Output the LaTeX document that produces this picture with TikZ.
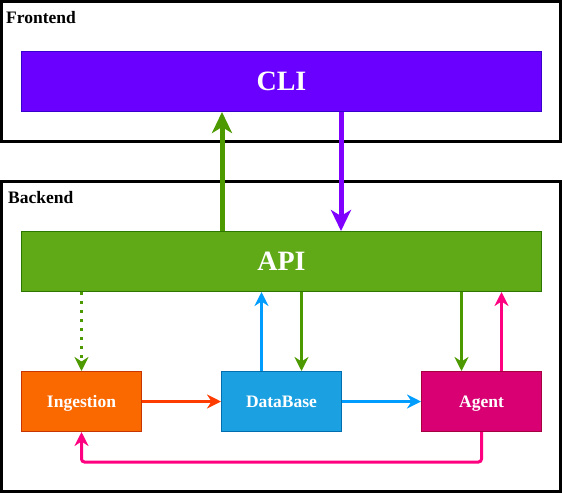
\documentclass[tikz,border=0pt]{standalone}
\usepackage{fontspec}
\setmainfont{Liberation Serif}
\usetikzlibrary{arrows.meta}
\definecolor{cliF}{HTML}{6A00FF}\definecolor{cliD}{HTML}{3700CC}
\definecolor{apiF}{HTML}{60A917}\definecolor{apiD}{HTML}{2D7600}
\definecolor{ingF}{HTML}{FA6800}\definecolor{ingD}{HTML}{C73500}
\definecolor{dbF}{HTML}{1BA1E2}\definecolor{dbD}{HTML}{006EAF}
\definecolor{agF}{HTML}{D80073}\definecolor{agD}{HTML}{A50040}
\definecolor{cGreen}{HTML}{4D9900}
\definecolor{cPurple}{HTML}{7F00FF}
\definecolor{cBlue}{HTML}{009DFF}
\definecolor{cRed}{HTML}{FF3C00}
\definecolor{cPink}{HTML}{FF0080}
\tikzset{
  group/.style={draw=black,line width=3pt,inner sep=0pt},
  grouplabel/.style={anchor=base west,inner sep=0pt,font=\bfseries\fontsize{17.5}{20}\selectfont},
  wide/.style={minimum width=520pt,minimum height=60pt,inner sep=0pt,line width=1pt,text=white,text depth=0pt,font=\bfseries\fontsize{28}{32}\selectfont},
  small/.style={minimum width=120pt,minimum height=60pt,inner sep=0pt,line width=1pt,text=white,text height=11.6pt,text depth=0pt,font=\bfseries\fontsize{17.5}{20}\selectfont},
  thin/.style={line width=3pt,-{Stealth[length=14pt,width=14pt,inset=4.5pt]}},
  thick/.style={line width=5pt,-{Stealth[length=21pt,width=20pt,inset=6pt]}}
}
\begin{document}
\begin{tikzpicture}[x=1pt,y=-1pt]
\useasboundingbox (0,0) rectangle (563,493);
\node[group,minimum width=559pt,minimum height=139.5pt] (frontend) at (281,71.25) {};
\node[group,minimum width=559pt,minimum height=310pt] (backend) at (281,336.5) {};
\node[grouplabel] (flabel) at (6,23) {Frontend};
\node[grouplabel] (blabel) at (8,203) {Backend};
\node[wide,fill=cliF,draw=cliD] (CLI) at (281.5,81.5) {CLI};
\node[wide,fill=apiF,draw=apiD] (API) at (281.5,261.5) {API};
\node[small,fill=ingF,draw=ingD] (ING) at (81.5,401.5) {Ingestion};
\node[small,fill=dbF,draw=dbD] (DB) at (281.5,401.5) {DataBase};
\node[small,fill=agF,draw=agD] (AG) at (481.5,401.5) {Agent};
% API <-> CLI
\draw[thick,cGreen] ([xshift=1pt]API.north -| DB.west) -- ([xshift=1pt]CLI.south -| DB.west);
\draw[thick,cPurple] ([xshift=-1pt]CLI.south -| DB.east) -- ([xshift=-1pt]API.north -| DB.east);
% API -> Ingestion dotted
\draw[thin,cGreen,dash pattern=on 3pt off 6pt] (API.south -| ING.north) -- (ING.north);
% DB <-> API
\draw[thin,cBlue] ([xshift=-20pt]DB.north) -- ([xshift=-20pt]DB.north |- API.south);
\draw[thin,cGreen] ([xshift=20pt]DB.north |- API.south) -- ([xshift=20pt]DB.north);
% Agent <-> API
\draw[thin,cGreen] ([xshift=-20pt]AG.north |- API.south) -- ([xshift=-20pt]AG.north);
\draw[thin,cPink] ([xshift=20pt]AG.north) -- ([xshift=20pt]AG.north |- API.south);
% horizontal
\draw[thin,cRed] (ING.east) -- (DB.west);
\draw[thin,cBlue] (DB.east) -- (AG.west);
% loop back
\draw[thin,cPink,rounded corners=3pt] (AG.south) -- ++(0,30) -| (ING.south);
\end{tikzpicture}
\end{document}
